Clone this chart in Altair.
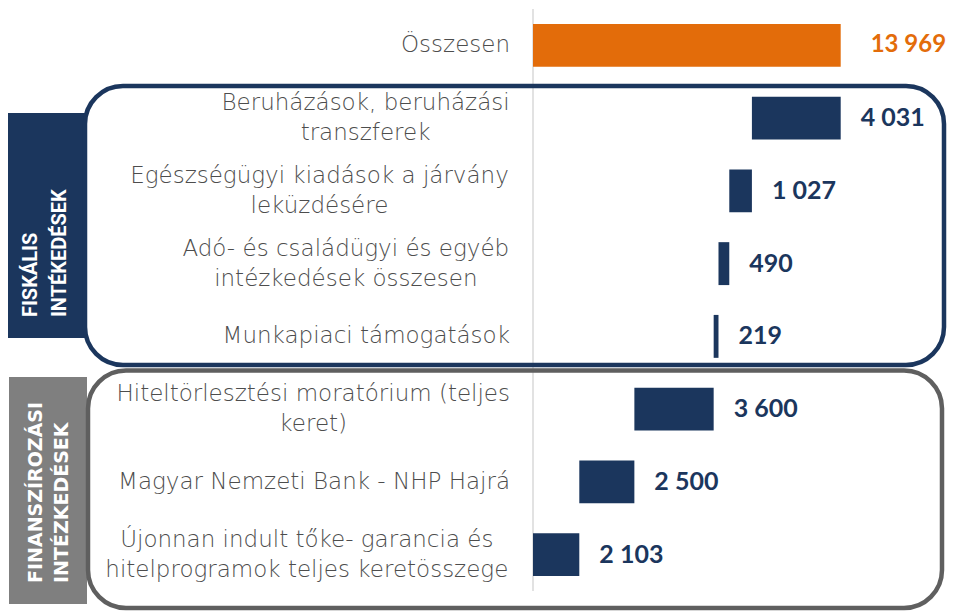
import unicodedata
import altair as alt
import pandas as pd

# ---------------- data ----------------
categories = [
    "Összesen",
    "Beruházások, beruházási\ntranszferek",
    "Egészségügyi kiadások a járvány\nleküzdésére",
    "Adó- és családügyi és egyéb\nintézkedések összesen",
    "Munkapiaci támogatások",
    "Hiteltörlesztési moratórium (teljes\nkeret)",
    "Magyar Nemzeti Bank - NHP Hajrá",
    "Újonnan indult tőke- garancia és\nhitelprogramok teljes keretösszege",
]
values = [13969, 4031, 1027, 490, 219, 3600, 2500, 2103]
kinds = ["total", "part", "part", "part", "part", "part", "part", "part"]
fiscal_title = ["FISKÁLIS", "INTÉKEDÉSEK"]
financing_title = ["FINANSZÍROZÁSI", "INTÉZKEDÉSEK"]

# ---------------- style ----------------
ORANGE = "#E36C0A"
NAVY = "#1B365D"
TEXT_GRAY = "#4d4d4d"
BOX_GRAY = "#5f5f5f"
RECT_GRAY = "#7F7F7F"
AXIS_GRAY = "#D9D9D9"
LABEL_FONT = "DejaVu Sans"
LABEL_SIZE = 23
LABEL_WEIGHT = 200
LABEL_RIGHT = 502  # right edge of category label blocks (px)

# approximate advance widths of DejaVu Sans (em), used only to centre
# wrapped label lines inside a right-aligned block
_W = {" ": .318, "(": .390, ")": .390, ",": .318, "-": .361,
      "a": .613, "b": .635, "c": .550, "d": .635, "e": .615, "f": .352, "g": .635,
      "h": .634, "i": .278, "j": .278, "k": .579, "l": .278, "m": .974, "n": .634,
      "o": .612, "p": .635, "q": .635, "r": .411, "s": .521, "t": .392, "u": .634,
      "v": .592, "w": .818, "x": .592, "y": .592, "z": .525,
      "A": .684, "B": .686, "E": .632, "H": .752, "M": .863, "N": .748,
      "O": .787, "P": .603, "U": .732}


def text_width(s, size):
    total = 0.0
    for ch in s:
        base = unicodedata.normalize("NFD", ch)[0]
        total += _W.get(base, 0.6)
    return total * size


# ---------------- waterfall table ----------------
rows = []
running = values[0]
for cat, v, k in zip(categories, values, kinds):
    if k == "total":
        s, e = 0, v
    else:
        e = running
        s = max(running - v, 0)
        running -= v
    lines = cat.split("\n")
    wmax = max(text_width(l, LABEL_SIZE) for l in lines)
    rows.append(dict(cat=cat, start=s, end=e, value=v, kind=k,
                     vlabel=f"{v:,}".replace(",", " "),
                     nlines=len(lines), lx=LABEL_RIGHT - wmax / 2))
bars = pd.DataFrame(rows)

one = pd.DataFrame({"zero": [0]})

xscale = alt.Scale(domain=[0, values[0]], range=[525, 832.7], nice=False, zero=True)
yscale = alt.Scale(range=[0, 582], paddingInner=0.41, paddingOuter=0.205)
Y = alt.Y("cat:N", sort=categories, axis=None, scale=yscale)

# decorative group label blocks
navy_block = alt.Chart(one).mark_rect(color=NAVY).encode(
    x=alt.value(0), x2=alt.value(77), y=alt.value(104), y2=alt.value(329))
gray_block = alt.Chart(one).mark_rect(color=RECT_GRAY).encode(
    x=alt.value(1), x2=alt.value(79), y=alt.value(368), y2=alt.value(595))

navy_box = alt.Chart(one).mark_rect(
    fillOpacity=0, stroke=NAVY, strokeWidth=4.5, cornerRadius=38).encode(
    x=alt.value(77), x2=alt.value(936), y=alt.value(77), y2=alt.value(356))
gray_box = alt.Chart(one).mark_rect(
    fillOpacity=0, stroke=BOX_GRAY, strokeWidth=4.5, cornerRadius=38).encode(
    x=alt.value(80), x2=alt.value(934), y=alt.value(361.5), y2=alt.value(599))

fiscal_text = alt.Chart(one).mark_text(
    text=fiscal_title, angle=270, align="left", baseline="middle",
    font="Roboto", fontWeight="bold", fontSize=20, lineHeight=29, color="white"
).encode(x=alt.value(23), y=alt.value(308))
financing_text = alt.Chart(one).mark_text(
    text=financing_title, angle=270, align="left", baseline="middle",
    font="DejaVu Sans", fontWeight="bold", fontSize=19, lineHeight=26, color="white"
).encode(x=alt.value(28), y=alt.value(574))

axis_rule = alt.Chart(one).mark_rule(color=AXIS_GRAY, strokeWidth=1.5).encode(
    x=alt.X("zero:Q", scale=xscale, axis=None), y=alt.value(0), y2=alt.value(582))

bar_layer = alt.Chart(bars).mark_bar().encode(
    x=alt.X("start:Q", scale=xscale, axis=None),
    x2="end:Q",
    y=Y,
    color=alt.Color("kind:N", scale=alt.Scale(domain=["total", "part"], range=[ORANGE, NAVY]), legend=None),
)

val_parts = alt.Chart(bars).transform_filter("datum.kind == 'part'").mark_text(
    align="left", baseline="middle", dx=20, font="Lato", fontWeight="bold",
    fontSize=25, color=NAVY
).encode(x=alt.X("end:Q", scale=xscale, axis=None), y=Y, text="vlabel:N")

val_total = alt.Chart(bars).transform_filter("datum.kind == 'total'").mark_text(
    align="left", baseline="middle", dx=30, font="Lato", fontWeight="bold",
    fontSize=24, color=ORANGE
).encode(x=alt.X("end:Q", scale=xscale, axis=None), y=Y, text="vlabel:N")

single_labels = alt.Chart(bars).transform_filter("datum.nlines == 1").mark_text(
    align="right", baseline="middle", font=LABEL_FONT, fontSize=LABEL_SIZE,
    fontWeight=LABEL_WEIGHT, color=TEXT_GRAY
).encode(x=alt.value(LABEL_RIGHT), y=Y, text="cat:N")

wrapped_labels = alt.Chart(bars).transform_filter("datum.nlines > 1").mark_text(
    align="center", baseline="middle", dy=-15, lineBreak="\n", lineHeight=30,
    font=LABEL_FONT, fontSize=LABEL_SIZE, fontWeight=LABEL_WEIGHT, color=TEXT_GRAY
).encode(x=alt.X("lx:Q", scale=None), y=Y, text="cat:N")

chart = alt.layer(
    navy_block, gray_block,
    axis_rule,
    navy_box, gray_box,
    fiscal_text, financing_text,
    bar_layer, val_parts, val_total,
    single_labels, wrapped_labels,
).properties(
    width=939, height=595, padding=0, background="white"
).configure_view(strokeWidth=0)

chart.save("out.html", embed_options={"renderer": "svg", "actions": False})
